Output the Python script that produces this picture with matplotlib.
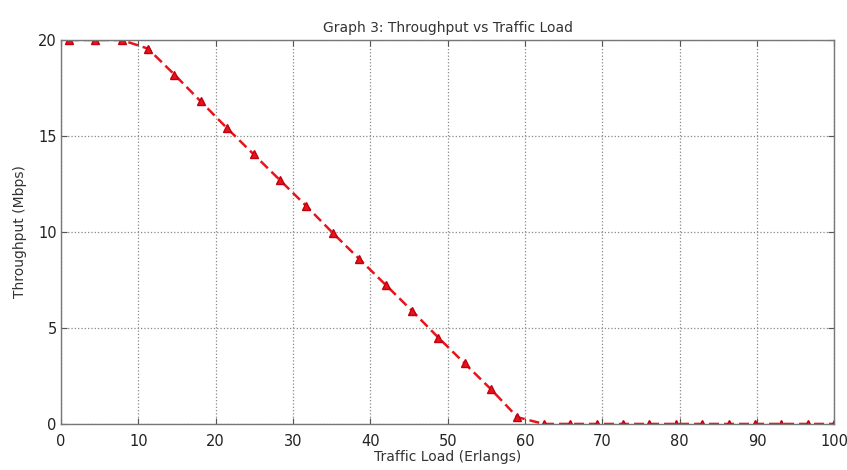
import matplotlib
matplotlib.use("Agg")
import matplotlib.pyplot as plt

plt.rcParams['font.family'] = ['DejaVu Sans']

traffic_load = [1.00, 4.41, 7.83, 11.24, 14.66, 18.07, 21.48, 24.90, 28.31, 31.72,
                35.14, 38.55, 41.97, 45.38, 48.79, 52.21, 55.62, 59.03, 62.45, 65.86,
                69.28, 72.69, 76.10, 79.52, 82.93, 86.34, 89.76, 93.17, 96.59, 100.00]
throughput = [20.0, 20.0, 20.0, 19.55, 18.2, 16.8, 15.4, 14.05, 12.7, 11.35,
              9.95, 8.6, 7.25, 5.9, 4.5, 3.15, 1.8, 0.35, 0.0, 0.0,
              0.0, 0.0, 0.0, 0.0, 0.0, 0.0, 0.0, 0.0, 0.0, 0.0]
x_ticks = [0, 10, 20, 30, 40, 50, 60, 70, 80, 90, 100]
y_ticks = [0, 5, 10, 15, 20]

fig = plt.figure(figsize=(8.47, 4.70), dpi=100)
ax = fig.add_axes([0.072, 0.098, 0.913, 0.817])
ax.plot(traffic_load, throughput, color='#e8141c', linestyle='--', linewidth=1.8,
        marker='^', markersize=6, markerfacecolor='#e8141c', markeredgecolor='#c00010',
        dashes=(4, 2))
ax.set_xlim(0, 100)
ax.set_ylim(0, 20)
ax.set_xticks(x_ticks)
ax.set_yticks(y_ticks)
ax.grid(True, color='#888888', linestyle=':', linewidth=0.9)
ax.tick_params(direction='in', top=True, right=True, labelsize=10.5, length=4,
               color='#555555', labelcolor='#222222', pad=3)
ax.tick_params(axis='x', pad=7)
for s in ax.spines.values():
    s.set_color('#777777')
    s.set_linewidth(1.0)
ax.set_title('Graph 3: Throughput vs Traffic Load', fontsize=10, pad=6, color='#333333')
ax.set_xlabel('Traffic Load (Erlangs)', fontsize=10, labelpad=1, color='#333333')
ax.set_ylabel('Throughput (Mbps)', fontsize=10, labelpad=8, color='#333333')
fig.savefig('out.png', dpi=100, facecolor='white')
